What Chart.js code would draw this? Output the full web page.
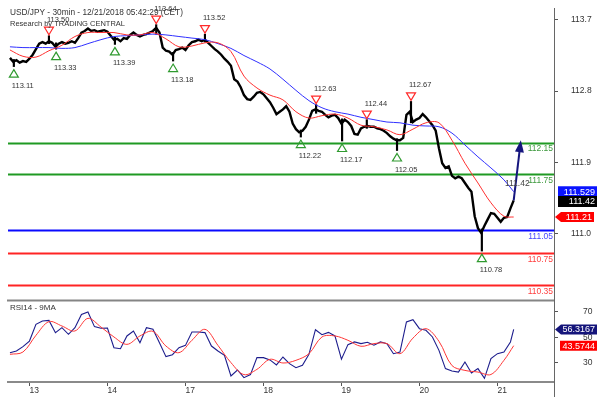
<!DOCTYPE html>
<html>
<head>
<meta charset="utf-8">
<script src="https://cdn.jsdelivr.net/npm/chart.js@4/dist/chart.umd.min.js"></script>
<style>
  html, body { margin: 0; padding: 0; background: #fff; }
  #wrap { position: relative; width: 598px; height: 397px; overflow: hidden; }
  #priceBox { position: absolute; left: 0; top: 0; width: 598px; height: 299px; }
  #rsiBox { position: absolute; left: 0; top: 299px; width: 598px; height: 98px; }
</style>
</head>
<body>
<div id="wrap">
  <div id="priceBox"><canvas id="price"></canvas></div>
  <div id="rsiBox"><canvas id="rsi"></canvas></div>
</div>
<script>
// x unit = one hour since 12/12 18:00 (trading hours only, weekend skipped)
const dayHours = [6, 30, 54, 78, 102, 126, 150];
const dayLabels = ['13', '14', '17', '18', '19', '20', '21'];

// hourly closes, USD/JPY
const closes = [
  113.22,113.17,113.19,113.16,113.18,113.17,113.21,113.26,113.33,113.40,
  113.42,113.40,113.43,113.41,113.36,113.40,113.42,113.40,113.41,113.43,
  113.41,113.47,113.54,113.56,113.59,113.56,113.57,113.55,113.56,113.57,
  113.55,113.50,113.45,113.46,113.43,113.47,113.46,113.51,113.54,113.51,
  113.49,113.51,113.52,113.54,113.56,113.60,113.54,113.35,113.31,113.30,
  113.26,113.32,113.33,113.35,113.32,113.38,113.42,113.43,113.45,113.43,
  113.45,113.41,113.37,113.33,113.30,113.26,113.21,113.17,113.12,112.95,
  112.92,112.85,112.75,112.70,112.69,112.73,112.78,112.79,112.76,112.71,
  112.66,112.59,112.51,112.54,112.57,112.61,112.54,112.39,112.32,112.28,
  112.30,112.35,112.44,112.55,112.57,112.55,112.54,112.50,112.47,112.49,
  112.50,112.46,112.39,112.44,112.41,112.36,112.26,112.25,112.33,112.35,
  112.36,112.35,112.35,112.33,112.32,112.30,112.27,112.23,112.20,112.18,
  112.18,112.21,112.50,112.54,112.41,112.44,112.46,112.51,112.47,112.42,
  112.37,112.30,112.08,111.89,111.83,111.85,111.73,111.70,111.72,111.70,
  111.64,111.58,111.53,111.22,111.07,111.01,111.10,111.18,111.26,111.25,
  111.20,111.15,111.20,111.21,111.32,111.42
];

// moving averages, every 4 hours
const maHours = [0,4,8,12,16,20,24,28,32,36,40,44,48,52,56,60,64,68,72,76,
  80,84,88,92,96,100,104,108,112,116,120,124,128,132,136,140,144,148,152,155];
const fastMa = [113.32,113.24,113.23,113.31,113.38,113.49,113.54,113.54,113.54,113.51,
  113.51,113.54,113.46,113.36,113.37,113.41,113.41,113.30,112.99,112.84,
  112.75,112.69,112.54,112.46,112.49,112.51,112.46,112.37,112.35,112.31,
  112.25,112.32,112.40,112.40,112.18,111.89,111.64,111.39,111.22,111.21];
const slowMa = [113.36,113.35,113.35,113.35,113.34,113.35,113.40,113.45,113.49,113.50,
  113.51,113.52,113.51,113.49,113.47,113.45,113.40,113.34,113.25,113.17,
  113.08,112.95,112.81,112.68,112.59,112.54,112.51,112.47,112.44,112.41,
  112.40,112.37,112.36,112.35,112.27,112.12,111.97,111.83,111.68,111.53];

// swing highs / lows with their wicks
const markerHours  = [1.2, 12, 14.2, 32.3, 45, 50.2, 60, 89.5, 94.2, 102.2, 109.8, 119.1, 123.4, 145.2];
const markerPrices = [113.11,113.50,113.33,113.39,113.64,113.18,113.52,112.22,112.63,112.17,112.44,112.05,112.67,110.78];
const markerKinds  = ['low','high','low','low','high','low','high','low','high','low','high','low','high','low'];
const wickLows  = [113.11,113.40,113.33,113.39,113.52,113.18,113.42,112.22,112.52,112.17,112.33,112.05,112.40,110.78];
const wickHighs = [113.20,113.50,113.41,113.48,113.64,113.29,113.52,112.31,112.63,112.45,112.44,112.20,112.67,111.06];

// support / resistance levels
const levels = [112.15, 111.75, 111.05, 110.75, 110.35];
const levelKinds = ['res', 'res', 'pivot', 'sup', 'sup'];

// projected move
const arrowHours = [155, 157.2];
const arrowPrices = [111.42, 112.18];

const priceTicks = [111.0, 111.9, 112.8, 113.7];
const priceTags = [111.529, 111.42, 111.21]; // slow MA, last, fast MA

// RSI14 every 2 hours and its 9MA every 4 hours
const rsiHours = [0,2,4,6,8,10,12,14,16,18,20,22,24,26,28,30,32,34,36,38,
  40,42,44,46,48,50,52,54,56,58,60,62,64,66,68,70,72,74,76,78,
  80,82,84,86,88,90,92,94,96,98,100,102,104,106,108,110,112,114,116,118,
  120,122,124,126,128,130,132,134,136,138,140,142,144,146,148,150,152,154,155];
const rsi = [38.1,39.4,42.8,47.2,60.3,62.9,63.4,53.8,57.7,52.5,
  57.7,68.0,70.0,58.5,57.2,57.4,42.0,41.2,51.2,55.1,
  45.9,57.7,56.4,45.9,35.0,36.5,42.0,43.8,54.3,54.3,
  53.8,43.3,39.4,36.0,19.8,24.5,18.5,20.9,34.2,34.2,
  32.4,28.5,34.7,29.5,26.3,28.2,36.8,56.1,52.2,54.0,
  51.2,33.0,44.4,46.5,45.2,46.2,43.9,46.5,45.2,37.3,
  38.6,62.2,64.0,56.9,55.6,50.4,39.9,25.6,23.7,22.9,
  30.8,22.2,25.6,18.0,33.4,37.3,38.6,46.5,56.3];
const rsiMa = [36.8,38.6,51.7,62.4,59.0,55.1,65.0,58.2,50.4,44.6,
  51.2,54.8,43.3,38.1,47.8,56.4,43.8,30.3,20.9,25.0,
  32.9,30.0,32.1,37.3,50.4,51.2,47.8,43.1,45.2,45.2,
  37.3,49.5,56.9,47.0,28.0,24.2,22.9,21.0,32.1,43.57];
const rsiTicks = [30, 50, 70];
const rsiTags = [56.3167, 43.5744];

const FONT = '"Liberation Sans", Arial, sans-serif';
const X_MIN = -0.6, X_MAX = 167.4;
const AXIS_W = 44;

const pts = (xs, ys) => ys.map((v, i) => ({ x: xs[i], y: v }));
const hourIdx = closes.map((_, i) => i);

// fixed-width right axis, no extra vertical padding from the tick labels
function fitRight(s) {
  s.width = AXIS_W;
  s.paddingTop = 0;
  s.paddingBottom = 0;
}

function tag(ctx, left, right, yc, h, bg, text, pointed) {
  ctx.save();
  ctx.fillStyle = bg;
  ctx.beginPath();
  if (pointed) {
    ctx.moveTo(left, yc);
    ctx.lineTo(left + 6, yc - h / 2);
    ctx.lineTo(right, yc - h / 2);
    ctx.lineTo(right, yc + h / 2);
    ctx.lineTo(left + 6, yc + h / 2);
    ctx.closePath();
  } else {
    ctx.rect(left, yc - h / 2, right - left, h);
  }
  ctx.fill();
  ctx.fillStyle = '#fff';
  ctx.font = '9px ' + FONT;
  ctx.textAlign = 'right';
  ctx.textBaseline = 'middle';
  ctx.fillText(text, right - 2, yc + 0.5);
  ctx.restore();
}

const levelColor = { res: '#1f9a23', pivot: '#0a0aff', sup: '#ff2424' };
const levelText = { res: '#3f9a3f', pivot: '#4646ff', sup: '#ff4040' };

const priceExtras = {
  id: 'priceExtras',
  beforeDatasetsDraw(chart) {
    const { ctx, chartArea: a, scales: { y } } = chart;
    ctx.save();
    ctx.lineWidth = 2;
    levels.forEach((lv, i) => {
      const py = Math.round(y.getPixelForValue(lv)) + 0.5;
      ctx.strokeStyle = levelColor[levelKinds[i]];
      ctx.beginPath(); ctx.moveTo(a.left, py); ctx.lineTo(a.right, py); ctx.stroke();
    });
    ctx.restore();
  },
  afterDatasetsDraw(chart) {
    const { ctx, chartArea: a, scales: { x, y } } = chart;
    ctx.save();
    // arrow
    const sx = x.getPixelForValue(arrowHours[0]), sy = y.getPixelForValue(arrowPrices[0]);
    const tx = x.getPixelForValue(arrowHours[1]), ty = y.getPixelForValue(arrowPrices[1]);
    const len = Math.hypot(tx - sx, ty - sy), ux = (tx - sx) / len, uy = (ty - sy) / len;
    ctx.strokeStyle = '#16167e'; ctx.fillStyle = '#16167e'; ctx.lineWidth = 2;
    ctx.beginPath(); ctx.moveTo(sx, sy); ctx.lineTo(tx - ux * 8, ty - uy * 8); ctx.stroke();
    ctx.beginPath();
    ctx.moveTo(tx, ty);
    ctx.lineTo(tx - ux * 12 - uy * 4.5, ty - uy * 12 + ux * 4.5);
    ctx.lineTo(tx - ux * 12 + uy * 4.5, ty - uy * 12 - ux * 4.5);
    ctx.closePath(); ctx.fill();

    // swing markers
    ctx.lineWidth = 1.2;
    ctx.font = '7.5px ' + FONT;
    ctx.textAlign = 'left'; ctx.textBaseline = 'middle';
    markerHours.forEach((h, i) => {
      const px = x.getPixelForValue(h), py = y.getPixelForValue(markerPrices[i]);
      const low = markerKinds[i] === 'low';
      const cy = low ? py + 7 : py - 5;
      ctx.strokeStyle = low ? '#2f9a2f' : '#ff2a2a';
      ctx.beginPath();
      if (low) { ctx.moveTo(px, cy - 4); ctx.lineTo(px + 4.5, cy + 3.5); ctx.lineTo(px - 4.5, cy + 3.5); }
      else { ctx.moveTo(px, cy + 4); ctx.lineTo(px + 4.5, cy - 3.5); ctx.lineTo(px - 4.5, cy - 3.5); }
      ctx.closePath(); ctx.stroke();
      ctx.fillStyle = '#333';
      ctx.fillText(markerPrices[i].toFixed(2), px - 2, low ? cy + 12 : cy - 11);
    });

    // level labels
    ctx.font = '8.5px ' + FONT;
    ctx.textAlign = 'right';
    levels.forEach((lv, i) => {
      ctx.fillStyle = levelText[levelKinds[i]];
      ctx.fillText(lv.toFixed(2), a.right - 1, y.getPixelForValue(lv) + 6.5);
    });
    ctx.fillStyle = '#444';
    ctx.textAlign = 'left';
    ctx.fillText(arrowPrices[0].toFixed(2), x.getPixelForValue(152.3), y.getPixelForValue(111.63));
    ctx.restore();
  },
  afterDraw(chart) {
    const { ctx, chartArea: a, scales: { y } } = chart;
    ctx.save();
    ctx.strokeStyle = '#666'; ctx.lineWidth = 1;
    ctx.beginPath(); ctx.moveTo(a.right + 0.5, a.bottom); ctx.lineTo(a.right + 0.5, chart.height); ctx.stroke();
    ctx.fillStyle = '#333';
    ctx.textAlign = 'left'; ctx.textBaseline = 'middle';
    ctx.font = '8.3px ' + FONT;
    ctx.fillText('USD/JPY - 30min - 12/21/2018 05:42:29 (CET)', 10, 13);
    ctx.font = '7.5px ' + FONT;
    ctx.fillText('Research by TRADING CENTRAL', 10, 23.5);
    tag(ctx, 558, 597, y.getPixelForValue(priceTags[0]), 11, '#0a14ff', priceTags[0].toFixed(3), false);
    tag(ctx, 558, 597, y.getPixelForValue(priceTags[1]) + 1, 11, '#000', priceTags[1].toFixed(2), false);
    tag(ctx, 555, 594, y.getPixelForValue(priceTags[2]), 10, '#ff0000', priceTags[2].toFixed(2), true);
    ctx.restore();
  }
};

new Chart(document.getElementById('price'), {
  type: 'line',
  data: {
    datasets: [
      { data: pts(maHours, fastMa), borderColor: '#ff3030', borderWidth: 1, pointRadius: 0, tension: 0.35 },
      { data: pts(maHours, slowMa), borderColor: '#3030ff', borderWidth: 1, pointRadius: 0, tension: 0.35 },
      { data: pts(hourIdx, closes), borderColor: '#000', borderWidth: 2.4, pointRadius: 0, tension: 0 },
      { type: 'bar', data: markerHours.map((h, i) => ({ x: h, y: [wickLows[i], wickHighs[i]] })),
        backgroundColor: '#000', barThickness: 1.5 }
    ]
  },
  options: {
    responsive: true, maintainAspectRatio: false, animation: false, devicePixelRatio: 1,
    layout: { autoPadding: false, padding: { left: 8, top: 8, bottom: 2, right: 0 } },
    plugins: { legend: { display: false }, tooltip: { enabled: false } },
    scales: {
      x: { type: 'linear', min: X_MIN, max: X_MAX, display: false, offset: false },
      y: {
        position: 'right', min: 110.2, max: 113.85,
        afterFit: fitRight,
        afterBuildTicks: s => { s.ticks = priceTicks.map(v => ({ value: v })); },
        grid: { drawOnChartArea: false, tickLength: 4, color: '#555' },
        border: { display: true, color: '#666', width: 1 },
        ticks: { padding: 13, color: '#333', font: { family: FONT, size: 8.5 }, callback: v => v.toFixed(1) }
      }
    }
  },
  plugins: [priceExtras]
});

const rsiExtras = {
  id: 'rsiExtras',
  afterDraw(chart) {
    const { ctx, chartArea: a, scales: { y } } = chart;
    ctx.save();
    ctx.strokeStyle = '#858585'; ctx.lineWidth = 2;
    ctx.beginPath(); ctx.moveTo(a.left - 1, 1.5); ctx.lineTo(a.right, 1.5); ctx.stroke();
    ctx.strokeStyle = '#666'; ctx.lineWidth = 1;
    ctx.beginPath(); ctx.moveTo(a.right + 0.5, 0); ctx.lineTo(a.right + 0.5, chart.height); ctx.stroke();
    ctx.fillStyle = '#333'; ctx.font = '8px ' + FONT;
    ctx.textAlign = 'left'; ctx.textBaseline = 'middle';
    ctx.fillText('RSI14 - 9MA', 10, 9);
    tag(ctx, 555, 597, y.getPixelForValue(rsiTags[0]), 10, '#14147a', rsiTags[0].toFixed(4), true);
    tag(ctx, 560, 597, y.getPixelForValue(rsiTags[1]), 10, '#ff0000', rsiTags[1].toFixed(4), false);
    ctx.restore();
  }
};

new Chart(document.getElementById('rsi'), {
  type: 'line',
  data: {
    datasets: [
      { data: pts(maHours, rsiMa), borderColor: '#ff3636', borderWidth: 1, pointRadius: 0, tension: 0.35 },
      { data: pts(rsiHours, rsi), borderColor: '#1c1c8c', borderWidth: 1.1, pointRadius: 0, tension: 0 }
    ]
  },
  options: {
    responsive: true, maintainAspectRatio: false, animation: false, devicePixelRatio: 1,
    layout: { autoPadding: false, padding: { left: 8, top: 2, bottom: 0, right: 0 } },
    plugins: { legend: { display: false }, tooltip: { enabled: false } },
    scales: {
      x: {
        type: 'linear', min: X_MIN, max: X_MAX,
        afterFit: s => { s.height = 15; s.paddingLeft = 0; s.paddingRight = 0; },
        afterBuildTicks: s => { s.ticks = dayHours.map(v => ({ value: v })); },
        grid: { drawOnChartArea: false, tickLength: 4, color: '#555' },
        border: { display: true, color: '#8a8a8a', width: 2 },
        ticks: {
          align: 'start', padding: 0, maxRotation: 0, autoSkip: false, color: '#333',
          font: { family: FONT, size: 8.5 },
          callback: v => { const i = dayHours.indexOf(v); return i < 0 ? '' : dayLabels[i]; }
        }
      },
      y: {
        position: 'right', min: 15.1, max: 78.6,
        afterFit: fitRight,
        afterBuildTicks: s => { s.ticks = rsiTicks.map(v => ({ value: v })); },
        grid: { drawOnChartArea: false, tickLength: 4, color: '#555' },
        border: { display: true, color: '#666', width: 1 },
        ticks: { padding: 25, color: '#333', font: { family: FONT, size: 8.5 } }
      }
    }
  },
  plugins: [rsiExtras]
});
</script>
</body>
</html>
